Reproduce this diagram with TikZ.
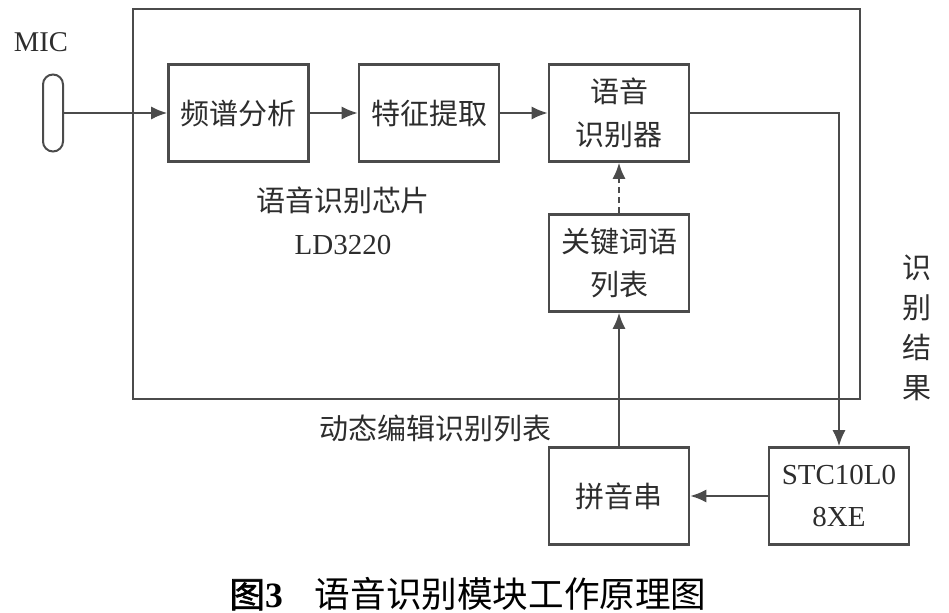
\documentclass[tikz,border=0pt]{standalone}
\usepackage{fontspec}
\setmainfont{Liberation Serif}
\newfontfamily\cjk{Noto Sans CJK SC}
\newfontfamily\cjkbold[FakeBold=1.5]{Noto Sans CJK SC}
\usetikzlibrary{arrows.meta}
\definecolor{linegray}{RGB}{75,75,75}
\definecolor{textgray}{RGB}{45,45,45}
\tikzset{
  block/.style={draw=linegray, line width=1.3pt, minimum width=70pt, minimum height=48.5pt,
    align=center, text=textgray, font=\fontsize{14.5}{21.5}\selectfont\cjk},
  label/.style={text=textgray, align=center, font=\fontsize{14.5}{21.5}\selectfont\cjk},
  conn/.style={draw=linegray, line width=0.9pt, -{Latex[length=8pt,width=6.5pt]}}
}
\begin{document}
\begin{tikzpicture}[x=0.5pt, y=-0.5pt]
  \useasboundingbox (0,0) rectangle (949,613);
  % Chip frame
  \draw[linegray, line width=1.3pt] (133,9) rectangle (860,399);

  % Nodes
  \node[draw=linegray, line width=1pt, rounded corners=5pt, minimum width=10pt, minimum height=38.5pt, inner sep=0pt] (mic) at (53,113) {};
  \node[text=textgray, font=\fontsize{14.3}{16}\selectfont] (mictext) at (41,42) {MIC};
  \node[block] (pu) at (238.5,113) {频谱分析};
  \node[block] (tz) at (429,113) {特征提取};
  \node[block] (sb) at (619,113) {语音\\识别器};
  \node[block] (gj) at (619,263) {关键词语\\列表};
  \node[block] (py) at (619,496) {拼音串};
  \node[block, font=\fontsize{14.5}{21}\selectfont] (stc) at (839,496) {STC10L0\\8XE};

  % Labels
  \node[label] (chip) at (343,221) {语音识别芯片\\{\rmfamily LD3220}};
  \node[label] (dyn) at (435,428) {动态编辑识别列表};
  \node[label, font=\fontsize{14.5}{20}\selectfont\cjk] (res) at (917,328) {识\\别\\结\\果};
  \node[text=black, font=\fontsize{17.8}{20}\selectfont] (cap) at (468,594) {{\cjkbold 图}\textbf{3}\hspace{16pt}{\cjk 语音识别模块工作原理图}};

  % Edges
  \foreach \a/\b in {mic/pu, pu/tz, tz/sb, py/gj}
    \draw[conn] (\a) -- (\b);
  \draw[conn] (sb.east) -| (stc.north);
  \draw[conn] (stc) -- (py);
  \draw[conn, densely dashed] (gj) -- (sb);
\end{tikzpicture}
\end{document}
